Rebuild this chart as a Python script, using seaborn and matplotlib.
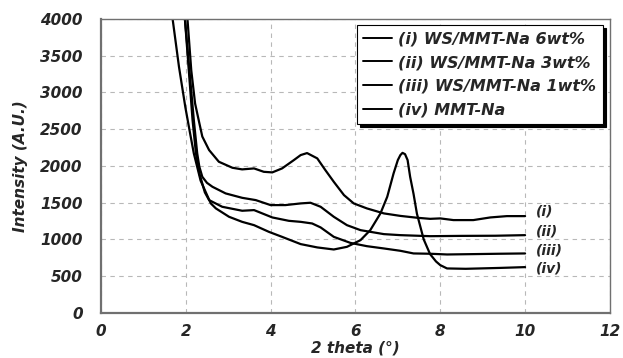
import matplotlib
matplotlib.use("Agg")
import matplotlib.pyplot as plt
import seaborn as sns
import pandas as pd

# ---- data ----
x_i = [1.95, 2.04, 2.13, 2.22, 2.31, 2.39, 2.55, 2.78, 3.10, 3.33, 3.61, 3.84, 4.04, 4.27, 4.55, 4.71, 4.86,
       5.1, 5.29, 5.49, 5.73, 5.96, 6.27, 6.67, 7.06, 7.45, 7.76, 8.0, 8.31, 8.78, 9.18, 9.57, 10.0]
y_i = [4560, 4000, 3300, 2850, 2610, 2400, 2216, 2057, 1975, 1953, 1966, 1920, 1912, 1966, 2080, 2148, 2175,
       2103, 1944, 1784, 1603, 1490, 1422, 1354, 1320, 1295, 1280, 1286, 1263, 1263, 1299, 1317, 1317]

x_ii = [1.92, 1.98, 2.19, 2.27, 2.32, 2.39, 2.50, 2.63, 2.94, 3.33, 3.65, 4.0, 4.35, 4.71, 4.94, 5.18,
        5.49, 5.8, 6.12, 6.67, 7.06, 7.76, 8.5, 9.3, 10.0]
y_ii = [4420, 4000, 2625, 2171, 1990, 1852, 1770, 1716, 1626, 1566, 1535, 1467, 1467, 1490, 1499, 1444,
        1308, 1194, 1126, 1072, 1058, 1044, 1048, 1050, 1058]

x_iii = [1.92, 1.98, 2.16, 2.24, 2.32, 2.45, 2.55, 2.86, 3.33, 3.61, 4.04, 4.43, 4.71, 4.98, 5.18, 5.49,
         5.88, 6.27, 6.67, 7.06, 7.37, 7.76, 8.16, 8.8, 9.4, 10.0]
y_iii = [4420, 4000, 2625, 2171, 1900, 1640, 1535, 1444, 1390, 1399, 1299, 1253, 1239, 1217, 1163, 1035,
         953, 908, 877, 845, 809, 805, 795, 800, 805, 809]

x_iv = [1.62, 1.69, 1.84, 1.99, 2.10, 2.19, 2.35, 2.59, 2.71, 3.02, 3.33, 3.61, 3.96, 4.27, 4.71, 5.1, 5.49,
        5.8, 6.12, 6.35, 6.59, 6.75, 6.9, 7.0, 7.06, 7.11, 7.17, 7.23, 7.29, 7.37, 7.45, 7.61, 7.76,
        7.9, 8.0, 8.16, 8.6, 8.94, 9.4, 9.73, 10.0]
y_iv = [4290, 4000, 3350, 2800, 2450, 2171, 1800, 1490, 1422, 1308, 1239, 1194, 1103, 1035, 936, 891, 863,
        899, 990, 1126, 1354, 1580, 1899, 2080, 2148, 2178, 2160, 2080, 1852, 1620, 1350, 1000, 800,
        700, 650, 605, 600, 605, 612, 618, 623]

series = ["(i) WS/MMT-Na 6wt%", "(ii) WS/MMT-Na 3wt%", "(iii) WS/MMT-Na 1wt%", "(iv) MMT-Na"]
end_labels = ["(i)", "(ii)", "(iii)", "(iv)"]
end_label_y = [1375, 1105, 855, 605]
x_ticks = [0, 2, 4, 6, 8, 10, 12]
y_ticks = [0, 500, 1000, 1500, 2000, 2500, 3000, 3500, 4000]

frames = []
for name, xs, ys in zip(series, [x_i, x_ii, x_iii, x_iv], [y_i, y_ii, y_iii, y_iv]):
    frames.append(pd.DataFrame({"x": xs, "y": ys, "series": name}))
df = pd.concat(frames, ignore_index=True)

sns.set_style("white")
plt.rcParams["font.family"] = ["DejaVu Sans"]

fig = plt.figure(figsize=(6.23, 3.58), dpi=100)
ax = fig.add_axes([0.162, 0.126, 0.817, 0.821])

sns.lineplot(data=df, x="x", y="y", hue="series", hue_order=series,
             palette=["black"] * 4, linewidth=1.6, sort=False,
             estimator=None, ax=ax, legend=True)
for ln in ax.get_lines():
    ln.set_solid_joinstyle("round")
    ln.set_solid_capstyle("round")

ax.set_xlim(0, 12)
ax.set_ylim(0, 4000)
ax.set_xticks(x_ticks)
ax.set_yticks(y_ticks)
ax.grid(True, linestyle=(0, (4, 4)), color="#b8b8b8", linewidth=0.8)

fp = dict(fontweight="bold", fontstyle="italic", fontsize=11)
ax.set_xticklabels([str(t) for t in x_ticks], **fp)
ax.set_yticklabels([str(t) for t in y_ticks], **fp)
ax.tick_params(axis="y", direction="out", length=3, width=1, color="#707070", pad=10)
ax.tick_params(axis="x", direction="out", length=3, width=1, color="#707070", pad=5)
ax.set_xlabel("2 theta (°)", **fp)
ax.set_ylabel("Intensity (A.U.)", **fp)
ax.xaxis.set_label_coords(0.5, -0.095)
ax.yaxis.set_label_coords(-0.143, 0.5)

for s in ["left", "bottom"]:
    ax.spines[s].set_color("#707070")
    ax.spines[s].set_linewidth(1.6)
for s in ["top", "right"]:
    ax.spines[s].set_visible(True)
    ax.spines[s].set_color("#707070")
    ax.spines[s].set_linewidth(1.0)

for lab, yy in zip(end_labels, end_label_y):
    ax.text(10.25, yy, lab, ha="left", va="center", fontsize=10,
            fontweight="bold", fontstyle="italic")

leg = ax.legend(loc="upper right", bbox_to_anchor=(0.986, 0.98), borderaxespad=0,
                frameon=True, fancybox=False, shadow={"color": "black", "alpha": 1},
                edgecolor="black", framealpha=1, handlelength=1.8, handletextpad=0.4,
                labelspacing=0.55, borderpad=0.4,
                prop={"weight": "bold", "style": "italic", "size": 11.5})
leg.get_frame().set_linewidth(0.8)
for h in leg.get_lines():
    h.set_linewidth(1.4)

fig.savefig("out.png", dpi=100)
